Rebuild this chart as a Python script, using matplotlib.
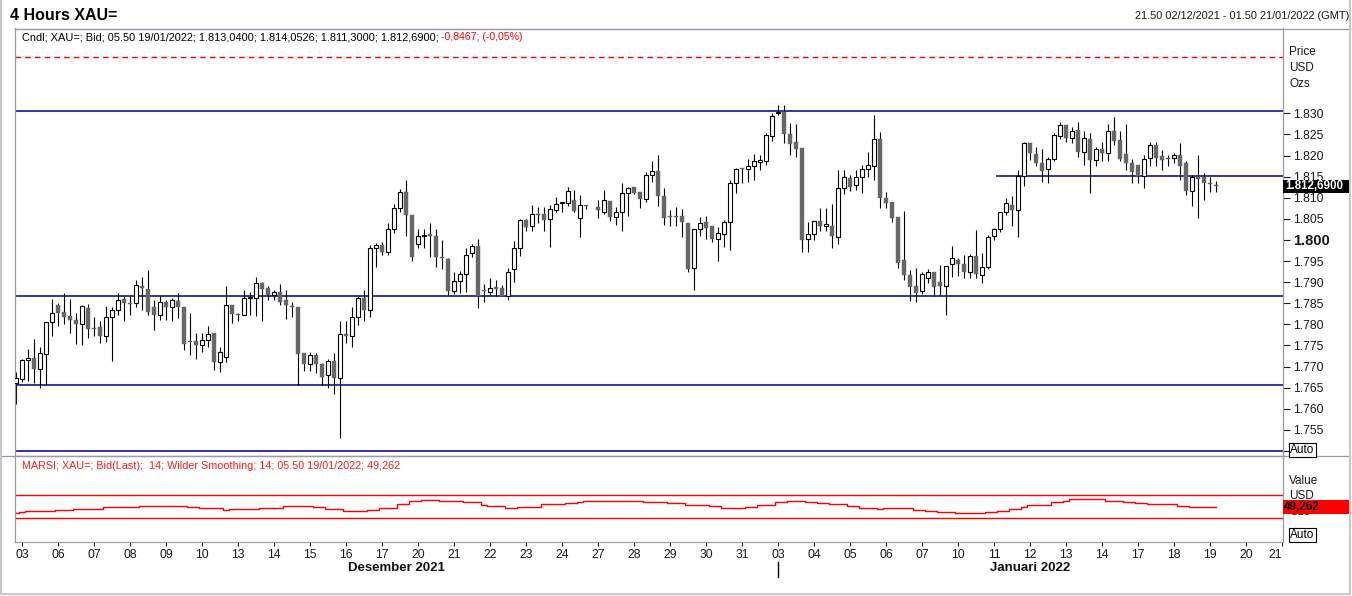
import numpy as np
import matplotlib.pyplot as plt
from matplotlib.patches import Rectangle
from matplotlib.lines import Line2D
from matplotlib.transforms import blended_transform_factory

plt.rcParams['font.family'] = ['Liberation Sans', 'DejaVu Sans']

nan = float('nan')

# XAU= 4 hour bars, first bar 21.50 02/12/2021, then 6 bars per trading day
# (one row per day, bar 95 = missing bar on 24 Dec)
opens = [1766.2,
    1767.1, 1771.5, 1772.0, 1769.4, 1772.9, 1780.5,
    1784.5, 1783.0, 1782.0, 1781.0, 1780.0, 1783.9,
    1779.0, 1779.4, 1777.2, 1781.7, 1783.4, 1786.0,
    1785.0, 1785.0, 1789.0, 1788.4, 1784.1, 1782.1,
    1785.3, 1784.2, 1785.6, 1784.0, 1776.0, 1776.0,
    1775.0, 1776.2, 1778.0, 1771.0, 1772.2, 1784.5,
    1782.5, 1782.2, 1786.2, 1786.3, 1789.8, 1788.6,
    1787.0, 1787.6, 1785.8, 1784.4, 1784.2, 1773.2,
    1770.6, 1772.8, 1770.5, 1767.9, 1771.3, 1767.2,
    1777.7, 1777.3, 1781.7, 1786.2, 1783.3, 1798.2,
    1798.8, 1797.2, 1802.5, 1807.5, 1811.3, 1805.9,
    1799.0, 1801.0, 1801.3, 1800.9, 1795.9, 1795.5,
    1788.0, 1790.3, 1791.9, 1796.8, 1798.6, 1787.9,
    1787.6, 1788.9, 1788.6, 1786.6, 1793.0, 1798.2,
    1804.7, 1803.2, 1806.2, 1806.2, 1804.9, 1807.1,
    1808.7, 1808.7, 1809.5, 1805.1, 1808.2, nan,
    1807.7, 1806.5, 1809.2, 1805.5, 1806.7, 1811.2,
    1812.5, 1811.3, 1809.6, 1815.3, 1816.3, 1810.4,
    1805.5, 1805.5, 1805.7, 1803.9, 1793.3, 1802.5,
    1804.2, 1803.3, 1800.3, 1801.4, 1804.2, 1813.4,
    1817.1, 1816.7, 1817.4, 1818.4, 1818.8, 1824.7,
    1830.0, 1830.4, 1825.0, 1823.1, 1821.7, 1800.2,
    1801.3, 1804.5, 1803.2, 1803.3, 1800.8, 1812.2,
    1814.6, 1812.9, 1814.8, 1816.7, 1817.5, 1823.8,
    1809.9, 1809.0, 1805.5, 1795.3, 1791.7, 1789.1,
    1787.8, 1790.9, 1792.3, 1790.1, 1789.2, 1794.2,
    1795.3, 1794.3, 1792.3, 1796.2, 1791.7, 1793.7,
    1800.9, 1802.5, 1806.5, 1808.3, 1807.1, 1815.2,
    1822.9, 1820.4, 1818.2, 1816.7, 1819.1, 1824.6,
    1827.2, 1824.1, 1826.1, 1820.9, 1823.9, 1819.0,
    1821.5, 1820.5, 1825.9, 1823.7, 1820.4, 1818.2,
    1817.8, 1815.2, 1819.3, 1822.5, 1819.9, 1819.4,
    1819.3, 1820.1, 1818.2, 1811.7, 1814.8, 1814.8,
    1813.5, 1813.04]

highs = [1768.8,
    1771.8, 1774.2, 1776.5, 1774.7, 1780.5, 1786.0,
    1785.0, 1787.4, 1785.9, 1782.6, 1784.5, 1784.7,
    1781.7, 1780.9, 1784.4, 1784.2, 1787.4, 1786.6,
    1786.6, 1790.5, 1791.3, 1792.9, 1785.8, 1786.8,
    1785.8, 1786.3, 1787.4, 1784.0, 1782.6, 1778.0,
    1778.0, 1779.6, 1778.0, 1774.7, 1789.1, 1784.5,
    1782.6, 1788.2, 1787.6, 1791.2, 1790.1, 1789.1,
    1788.2, 1789.6, 1788.2, 1785.4, 1784.2, 1773.2,
    1773.5, 1773.1, 1770.8, 1771.7, 1773.1, 1780.8,
    1780.8, 1784.2, 1786.8, 1788.2, 1798.8, 1799.2,
    1799.6, 1804.1, 1808.4, 1812.0, 1814.2, 1805.9,
    1802.6, 1802.6, 1804.0, 1802.6, 1800.0, 1795.7,
    1792.5, 1792.7, 1798.2, 1799.1, 1800.2, 1789.5,
    1790.9, 1790.4, 1789.3, 1793.3, 1799.8, 1804.9,
    1804.9, 1808.3, 1807.9, 1807.9, 1808.3, 1810.1,
    1808.8, 1812.5, 1811.8, 1810.7, 1808.2, nan,
    1809.5, 1811.8, 1809.2, 1807.9, 1813.4, 1812.5,
    1812.5, 1811.3, 1816.2, 1818.6, 1820.1, 1812.2,
    1807.1, 1807.9, 1807.3, 1803.9, 1802.5, 1805.5,
    1805.7, 1803.3, 1803.0, 1804.7, 1814.2, 1817.1,
    1817.1, 1819.1, 1820.3, 1820.1, 1825.3, 1830.0,
    1832.0, 1832.0, 1827.6, 1827.5, 1821.9, 1804.3,
    1804.5, 1807.5, 1807.5, 1808.5, 1816.6, 1816.6,
    1815.4, 1816.6, 1817.8, 1820.9, 1829.6, 1825.5,
    1811.4, 1809.0, 1805.5, 1806.9, 1792.9, 1793.3,
    1792.5, 1793.1, 1792.5, 1794.1, 1793.8, 1798.6,
    1795.7, 1796.4, 1796.7, 1802.4, 1796.8, 1801.2,
    1802.8, 1806.7, 1810.0, 1810.3, 1816.6, 1823.1,
    1822.9, 1822.1, 1821.5, 1819.6, 1825.3, 1828.0,
    1827.2, 1826.7, 1828.0, 1825.7, 1825.3, 1822.1,
    1823.1, 1827.5, 1829.1, 1825.7, 1827.5, 1819.2,
    1817.8, 1820.1, 1823.1, 1823.1, 1821.3, 1820.1,
    1820.5, 1822.9, 1818.6, 1815.4, 1820.1, 1815.8,
    1815.0, 1814.0526]

lows = [1761.2,
    1766.4, 1766.6, 1766.2, 1764.8, 1765.6, 1777.3,
    1779.7, 1780.1, 1778.0, 1775.4, 1775.2, 1776.7,
    1777.3, 1775.5, 1775.8, 1771.2, 1782.2, 1780.9,
    1782.2, 1784.2, 1783.4, 1782.2, 1778.7, 1781.0,
    1781.0, 1780.9, 1781.4, 1773.9, 1772.8, 1771.9,
    1773.4, 1774.7, 1769.1, 1768.6, 1771.0, 1780.3,
    1780.9, 1782.1, 1782.2, 1782.0, 1780.7, 1785.8,
    1785.8, 1784.6, 1781.2, 1781.8, 1765.6, 1769.0,
    1769.0, 1768.4, 1765.6, 1764.9, 1763.4, 1753.0,
    1775.5, 1774.7, 1779.9, 1780.7, 1781.8, 1793.7,
    1796.4, 1796.4, 1801.6, 1806.5, 1801.0, 1794.9,
    1798.0, 1798.0, 1796.0, 1793.5, 1793.2, 1787.0,
    1787.2, 1787.4, 1787.6, 1796.0, 1783.8, 1785.2,
    1787.0, 1786.7, 1786.6, 1785.8, 1790.1, 1796.3,
    1802.0, 1802.1, 1803.9, 1802.0, 1798.4, 1806.5,
    1806.5, 1808.1, 1806.5, 1800.6, 1807.3, nan,
    1805.3, 1806.2, 1804.6, 1803.6, 1802.2, 1805.7,
    1811.0, 1807.5, 1808.9, 1813.8, 1808.1, 1803.6,
    1803.3, 1803.2, 1800.8, 1792.5, 1788.1, 1801.0,
    1800.2, 1799.4, 1794.9, 1798.4, 1797.6, 1811.2,
    1813.6, 1813.7, 1814.2, 1816.6, 1817.8, 1823.5,
    1829.6, 1822.9, 1820.1, 1819.7, 1797.2, 1797.2,
    1800.0, 1802.0, 1802.0, 1798.0, 1799.1, 1811.0,
    1811.7, 1811.8, 1811.2, 1815.0, 1814.2, 1807.5,
    1807.5, 1804.3, 1793.4, 1790.5, 1785.6, 1785.4,
    1787.1, 1789.7, 1786.6, 1787.0, 1782.1, 1791.3,
    1791.5, 1790.9, 1790.9, 1790.9, 1789.9, 1793.0,
    1800.0, 1801.8, 1805.9, 1803.2, 1800.6, 1812.8,
    1819.0, 1817.5, 1813.8, 1813.4, 1818.6, 1823.8,
    1823.1, 1822.9, 1819.6, 1817.8, 1811.2, 1817.4,
    1818.8, 1818.6, 1822.5, 1818.6, 1816.6, 1813.4,
    1813.4, 1812.2, 1817.4, 1817.4, 1816.6, 1817.4,
    1818.2, 1814.2, 1810.7, 1808.1, 1805.1, 1809.5,
    1811.4, 1811.30]

closes = [1767.2,
    1771.5, 1772.0, 1769.4, 1773.1, 1780.5, 1782.6,
    1782.8, 1781.8, 1781.0, 1780.0, 1784.3, 1778.8,
    1778.8, 1777.3, 1781.7, 1783.4, 1785.8, 1785.0,
    1784.8, 1789.3, 1788.5, 1783.0, 1782.1, 1785.2,
    1784.2, 1785.8, 1784.0, 1775.4, 1775.7, 1775.0,
    1776.2, 1777.7, 1771.1, 1773.4, 1784.5, 1782.4,
    1782.2, 1786.2, 1786.4, 1789.8, 1788.3, 1787.0,
    1787.6, 1785.4, 1784.5, 1784.0, 1772.9, 1770.5,
    1772.8, 1770.5, 1767.6, 1771.3, 1767.4, 1777.7,
    1777.3, 1781.7, 1786.2, 1783.4, 1798.2, 1798.7,
    1797.2, 1802.5, 1807.5, 1811.4, 1805.8, 1795.9,
    1801.0, 1801.1, 1800.9, 1796.0, 1795.7, 1788.0,
    1790.3, 1791.9, 1796.4, 1798.6, 1786.6, 1787.8,
    1788.5, 1788.3, 1786.7, 1792.5, 1798.0, 1804.7,
    1803.1, 1806.2, 1805.8, 1804.8, 1807.3, 1808.4,
    1808.8, 1811.6, 1806.9, 1808.2, 1808.1, nan,
    1807.1, 1809.5, 1805.5, 1806.5, 1811.1, 1812.2,
    1811.2, 1809.7, 1815.4, 1816.3, 1810.5, 1805.3,
    1805.4, 1805.4, 1804.2, 1793.1, 1802.5, 1804.1,
    1802.9, 1800.2, 1801.6, 1804.3, 1813.4, 1816.7,
    1816.7, 1817.5, 1818.6, 1818.9, 1824.9, 1829.4,
    1830.3, 1825.0, 1822.7, 1821.6, 1800.0, 1801.3,
    1804.5, 1803.2, 1803.8, 1801.0, 1812.2, 1814.8,
    1812.6, 1814.8, 1816.7, 1817.7, 1823.8, 1809.9,
    1808.8, 1805.1, 1794.6, 1791.6, 1788.9, 1787.5,
    1791.9, 1792.3, 1788.9, 1789.2, 1793.8, 1795.7,
    1794.2, 1792.3, 1796.2, 1791.9, 1793.5, 1800.8,
    1802.5, 1806.5, 1808.8, 1807.1, 1815.2, 1822.9,
    1820.5, 1818.2, 1816.4, 1819.1, 1824.9, 1827.2,
    1824.1, 1825.9, 1820.9, 1824.1, 1819.0, 1821.5,
    1820.5, 1825.9, 1823.5, 1819.1, 1818.2, 1816.2,
    1815.2, 1819.1, 1822.5, 1819.3, 1818.9, 1819.1,
    1820.1, 1817.5, 1811.7, 1815.0, 1814.5, 1813.4,
    1813.2, 1812.69]

# MARSI 14, Wilder smoothing
marsi = [40,
    41, 42, 42, 42, 42, 42,
    44, 44, 44, 45.6, 45.6, 45.6,
    47, 47, 49, 49, 50, 50,
    50, 50, 52, 52, 52, 52,
    52, 52, 52, 52, 50, 50,
    48.6, 48.6, 48.6, 48.6, 45, 47,
    47, 47, 47, 47, 48.6, 48.6,
    48.6, 48.6, 51, 51, 51, 51,
    51, 49, 49, 46.5, 46.5, 46.5,
    43, 43, 43, 43, 45, 45,
    48, 48, 48, 55, 55, 59.6,
    59.6, 62.5, 62.5, 62.5, 60, 60,
    60, 60, 58, 58, 58, 52.6,
    51, 51, 51, 48.6, 48.6, 50,
    50, 50, 50, 54, 54, 54,
    54, 56.7, 56.7, 58, 60.7, 60.7,
    60.7, 60.7, 60.7, 60.7, 60.7, 60.7,
    60.7, 60.7, 59, 59, 59, 59,
    57, 57, 57, 53, 53, 53,
    53, 51, 51, 48.6, 48.6, 48.6,
    48.6, 50, 50, 53, 53, 53,
    57.8, 57.8, 60.7, 60.7, 60.7, 59,
    59, 57, 57, 54, 54, 54,
    51, 51, 48.6, 48.6, 48.6, 47,
    48.6, 48.6, 48.6, 47.5, 47.5, 45,
    45, 42.7, 42.7, 41, 41, 41,
    38.7, 38.7, 38.7, 38.7, 38.7, 41,
    41, 43, 43, 45.6, 45.6, 49,
    53, 53, 53, 53, 57.8, 57.8,
    60.7, 63, 63, 63, 63, 63,
    63, 60.7, 60.7, 60.7, 59, 59,
    57, 57, 54, 54, 54, 54,
    54, 52, 52, 49.3, 49.3, 49.3,
    49.3, 49.262]

day_labels = ['03', '06', '07', '08', '09', '10', '13', '14', '15', '16', '17',
              '20', '21', '22', '23', '24', '27', '28', '29', '30', '31',
              '03', '04', '05', '06', '07', '10', '11', '12', '13', '14',
              '17', '18', '19', '20', '21']
months = ['Desember 2021', 'Januari 2022']
new_year_day = 21   # index of 03/01/2022 in day_labels

sr_levels = [1830.5, 1786.8, 1765.7, 1750.0]   # drawn trend lines
short_level = 1815.1
max_line = 1843.3
rsi_bands = [30, 70]

W, H = 1352, 596
fig = plt.figure(figsize=(W / 100, H / 100), dpi=100)


def fx(px):
    return px / W


def fy(py):
    return 1 - py / H


frame_col = '#9a9aa8'
navy = '#000080'
x_lo, x_hi = -1.22, 210.17

ax = fig.add_axes([fx(14.7), fy(456), fx(1283) - fx(14.7), fy(28.5) - fy(456)])
ax2 = fig.add_axes([fx(14.7), fy(542), fx(1283) - fx(14.7), fy(456) - fy(542)])

slots = np.arange(-1, 200)
o = np.array(opens)
h = np.array(highs)
l = np.array(lows)
c = np.array(closes)
ok = ~np.isnan(o)
up = ok & (c >= o)
dn = ok & (c < o)

# candles
ax.vlines(slots[ok], l[ok], h[ok], color='black', lw=0.8, zorder=2)
lo = np.minimum(o, c)
bh = np.maximum(np.abs(c - o), 0.22)
ax.bar(slots[up], bh[up], bottom=lo[up], width=0.7, color='white',
       edgecolor='black', lw=0.8, zorder=3)
ax.bar(slots[dn], bh[dn], bottom=lo[dn], width=0.82, color='#676767',
       edgecolor='#676767', lw=0.3, zorder=3)

for lev in sr_levels:
    ax.axhline(lev, color=navy, lw=1.1, zorder=1)
ax.hlines(short_level, 162.3, 210.2, color=navy, lw=1.1, zorder=1)
ax.axhline(max_line, color='red', lw=1.0, dashes=(4, 3))

ax.set_xlim(x_lo, x_hi)
ax.set_ylim(1748.8, 1850.1)
ax.set_xticks([])
yt = np.arange(1750, 1831, 5)
ax.yaxis.tick_right()
ax.set_yticks(yt)
ax.set_yticklabels(['' if v == 1750 else f'{v / 1000:.3f}' for v in yt])
ax.tick_params(axis='y', direction='out', length=5, width=0.8, pad=2,
               labelsize=8.7, colors='#1a1a1a')
for lab, v in zip(ax.get_yticklabels(), yt):
    if v == 1800:
        lab.set_fontweight('bold')
        lab.set_fontsize(10.5)
for sp in ax.spines.values():
    sp.set_color(frame_col)
    sp.set_linewidth(0.9)

# MARSI pane
ax2.step(slots, marsi, where='mid', color='red', lw=1.0)
for b in rsi_bands:
    ax2.axhline(b, color='red', lw=1.0)
ax2.set_xlim(x_lo, x_hi)
ax2.set_ylim(-11.2, 138.3)
ax2.set_yticks([])
ticks = np.arange(len(day_labels)) * 6
ax2.set_xticks(ticks)
ax2.set_xticklabels(day_labels)
ax2.tick_params(axis='x', direction='out', length=3, width=0.8, pad=2,
                labelsize=8.7, colors='#1a1a1a')
ax2.get_xticklabels()[-1].set_horizontalalignment('right')
for sp in ax2.spines.values():
    sp.set_color(frame_col)
    sp.set_linewidth(0.9)

# year change marker under Jan 03, month names centred on their visible span
bx = blended_transform_factory(ax2.transData, fig.transFigure)
jan = ticks[new_year_day]
fig.add_artist(Line2D([jan, jan], [fy(562), fy(577)], transform=bx,
                      color='black', lw=1.0))
for name, (s0, s1) in zip(months, [(x_lo, jan), (jan, x_hi)]):
    fig.text((s0 + s1) / 2, fy(568), name, transform=bx, ha='center', va='center',
             fontsize=9.5, fontweight='bold', color='#111111')

# frame lines of the window
fig.add_artist(Line2D([fx(14.7), fx(1350)], [fy(28.5), fy(28.5)], color=frame_col, lw=0.9))
fig.add_artist(Line2D([fx(1), fx(1350)], [fy(456), fy(456)], color=frame_col, lw=0.9))
fig.add_artist(Line2D([fx(1), fx(1), fx(1350), fx(1350)], [fy(0), fy(594), fy(594), fy(0)],
                      color='#c8c8c8', lw=1.5))

# header texts
fig.text(fx(10), fy(15), '4 Hours XAU=', fontsize=11.5, fontweight='bold',
         ha='left', va='center', color='black')
fig.text(fx(1349), fy(16), '21.50 02/12/2021 - 01.50 21/01/2022 (GMT)', fontsize=7.9,
         ha='right', va='center', color='#1a1a1a')
fig.text(fx(22), fy(37.5),
         'Cndl; XAU=; Bid; 05.50 19/01/2022; 1.813,0400; 1.814,0526; 1.811,3000; 1.812,6900;',
         fontsize=7.95, ha='left', va='center', color='black')
fig.text(fx(441), fy(37.5), '-0,8467; (-0,05%)', fontsize=7.6, ha='left', va='center',
         color='red')
fig.text(fx(22), fy(466),
         'MARSI; XAU=; Bid(Last);  14; Wilder Smoothing; 14; 05.50 19/01/2022; 49,262',
         fontsize=7.75, ha='left', va='center', color='#ff1a1a')

for txt, py in [('Price', 52), ('USD', 68), ('Ozs', 84), ('Value', 481), ('USD', 496),
                ('Ozs', 512)]:
    fig.text(fx(1289), fy(py), txt, fontsize=8.5, ha='left', va='center', color='#1a1a1a')

for py in [450, 535]:
    fig.text(fx(1302.5), fy(py), 'Auto', fontsize=8.5, ha='center', va='center',
             color='black', bbox=dict(boxstyle='square,pad=0.12', fc='white', ec='black', lw=0.8))

# last value boxes
last = closes[-1]
tp = blended_transform_factory(fig.transFigure, ax.transData)
fig.add_artist(Rectangle((fx(1283), last - 1.6), fx(1349) - fx(1283), 3.2, transform=tp,
                         facecolor='black', edgecolor='none', zorder=5))
whole = int(last)
frac = round((last - whole) * 10000)
fig.text(fx(1285), last, f'{whole // 1000}.{whole % 1000:03d},{frac:04d}', transform=tp,
         fontsize=8.3, fontweight='bold', color='white', ha='left', va='center', zorder=6)

tr = blended_transform_factory(fig.transFigure, ax2.transData)
fig.add_artist(Rectangle((fx(1283), marsi[-1] - 12.2), fx(1349) - fx(1283), 24.4, transform=tr,
                         facecolor='red', edgecolor='none', zorder=5))
fig.text(fx(1284), marsi[-1], f'{marsi[-1]:.3f}'.replace('.', ','), transform=tr,
         fontsize=8.5, fontweight='bold', color='black', ha='left', va='center', zorder=6)

fig.savefig('out.png', dpi=100)
